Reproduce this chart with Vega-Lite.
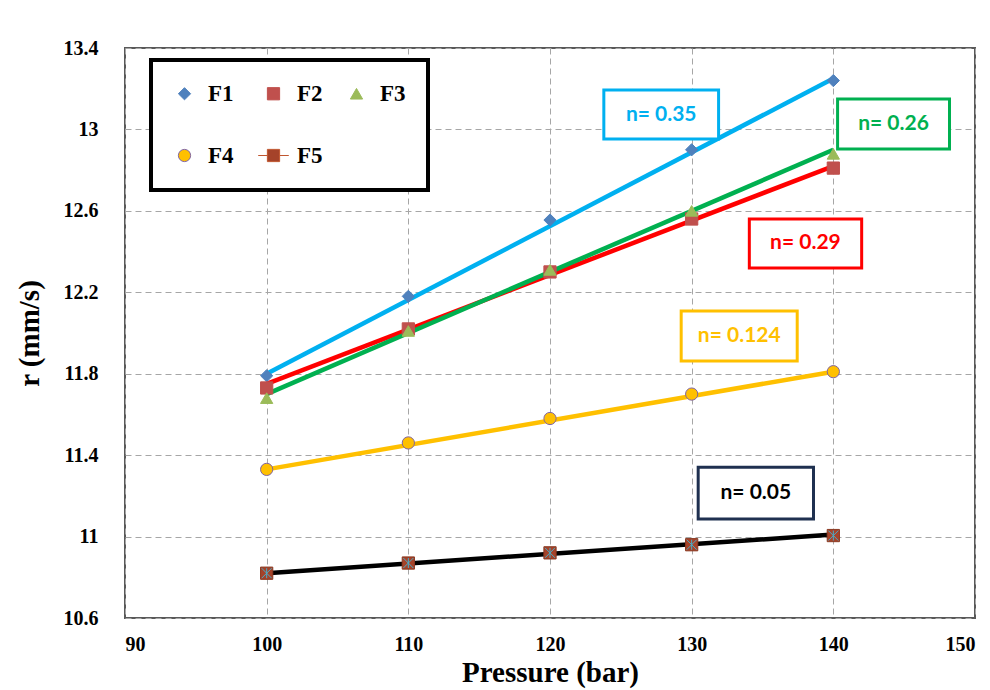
{
  "$schema": "https://vega.github.io/schema/vega-lite/v6.json",
  "width": 850,
  "height": 570,
  "autosize": {"type": "none"},
  "padding": {"left": 125, "top": 48, "right": 15, "bottom": 72},
  "background": "white",
  "datasets": {
    "pts": [
      {"s": "F1", "p": 100, "r": 11.79}, {"s": "F1", "p": 110, "r": 12.18}, {"s": "F1", "p": 120, "r": 12.555}, {"s": "F1", "p": 130, "r": 12.9}, {"s": "F1", "p": 140, "r": 13.24},
      {"s": "F2", "p": 100, "r": 11.73}, {"s": "F2", "p": 110, "r": 12.02}, {"s": "F2", "p": 120, "r": 12.3}, {"s": "F2", "p": 130, "r": 12.56}, {"s": "F2", "p": 140, "r": 12.81},
      {"s": "F3", "p": 100, "r": 11.68}, {"s": "F3", "p": 110, "r": 12.01}, {"s": "F3", "p": 120, "r": 12.31}, {"s": "F3", "p": 130, "r": 12.6}, {"s": "F3", "p": 140, "r": 12.88},
      {"s": "F4", "p": 100, "r": 11.33}, {"s": "F4", "p": 110, "r": 11.46}, {"s": "F4", "p": 120, "r": 11.58}, {"s": "F4", "p": 130, "r": 11.7}, {"s": "F4", "p": 140, "r": 11.81},
      {"s": "F5", "p": 100, "r": 10.82}, {"s": "F5", "p": 110, "r": 10.87}, {"s": "F5", "p": 120, "r": 10.92}, {"s": "F5", "p": 130, "r": 10.96}, {"s": "F5", "p": 140, "r": 11.005}
    ],
    "fit": [
      {"s": "F1", "p": 100, "r": 11.8}, {"s": "F1", "p": 140, "r": 13.25},
      {"s": "F2", "p": 100, "r": 11.75}, {"s": "F2", "p": 140, "r": 12.82},
      {"s": "F3", "p": 100, "r": 11.7}, {"s": "F3", "p": 140, "r": 12.9},
      {"s": "F4", "p": 100, "r": 11.33}, {"s": "F4", "p": 140, "r": 11.81},
      {"s": "F5", "p": 100, "r": 10.82}, {"s": "F5", "p": 140, "r": 11.01}
    ],
    "notes": [
      {"s": "F1", "label": "n= 0.35", "x1": 123.8, "x2": 131.9, "y1": 13.194, "y2": 12.953, "xc": 127.85, "yc": 13.073},
      {"s": "F2", "label": "n= 0.29", "x1": 134.07, "x2": 142.0, "y1": 12.56, "y2": 12.319, "xc": 138.03, "yc": 12.44},
      {"s": "F3", "label": "n= 0.26", "x1": 140.3, "x2": 148.2, "y1": 13.149, "y2": 12.904, "xc": 144.25, "yc": 13.027},
      {"s": "F4", "label": "n= 0.124", "x1": 129.26, "x2": 137.45, "y1": 12.108, "y2": 11.862, "xc": 133.36, "yc": 11.985},
      {"s": "F5", "label": "n= 0.05", "x1": 130.46, "x2": 138.6, "y1": 11.34, "y2": 11.086, "xc": 134.53, "yc": 11.213}
    ]
  },
  "layer": [
    {
      "data": {"name": "fit"},
      "mark": {"type": "line", "strokeWidth": 4.5},
      "encoding": {
        "x": {"field": "p", "type": "quantitative", "title": "Pressure (bar)", "scale": {"domain": [90, 150], "nice": false, "zero": false},
              "axis": {"values": [90, 100, 110, 120, 130, 140, 150]}},
        "y": {"field": "r", "type": "quantitative", "title": "r (mm/s)", "scale": {"domain": [10.6, 13.4], "nice": false, "zero": false},
              "axis": {"values": [10.6, 11, 11.4, 11.8, 12.2, 12.6, 13, 13.4], "format": ".1~f"}},
        "color": {"field": "s", "type": "nominal", "legend": null,
                  "scale": {"domain": ["F1", "F2", "F3", "F4", "F5"], "range": ["#00B0F0", "#FF0000", "#00B050", "#FFC000", "#000000"]}},
        "detail": {"field": "s"}
      }
    },
    {
      "data": {"name": "pts"},
      "mark": {"type": "point", "filled": true, "size": 150, "strokeWidth": 1, "opacity": 1},
      "encoding": {
        "x": {"field": "p", "type": "quantitative", "title": "Pressure (bar)"},
        "y": {"field": "r", "type": "quantitative", "title": "r (mm/s)"},
        "color": {"field": "s", "type": "nominal", "legend": null,
                  "scale": {"domain": ["F1", "F2", "F3", "F4", "F5"], "range": ["#4F81BD", "#C0504D", "#9BBB59", "#FFC000", "#A5432A"]}},
        "stroke": {"field": "s", "type": "nominal", "legend": null,
                  "scale": {"domain": ["F1", "F2", "F3", "F4", "F5"], "range": ["#4F81BD", "#C0504D", "#9BBB59", "#8064A2", "#8B3A22"]}},
        "shape": {"field": "s", "type": "nominal", "legend": null,
                  "scale": {"domain": ["F1", "F2", "F3", "F4", "F5"], "range": ["diamond", "square", "triangle-up", "circle", "square"]}}
      }
    },
    {
      "data": {"name": "pts"},
      "transform": [{"filter": "datum.s === 'F5'"}],
      "mark": {"type": "point", "shape": "M-1,-1L1,1M-1,1L1,-1M0,-1L0,1", "size": 100, "stroke": "#4BACC6", "strokeWidth": 1, "filled": false, "opacity": 1},
      "encoding": {
        "x": {"field": "p", "type": "quantitative", "title": "Pressure (bar)"},
        "y": {"field": "r", "type": "quantitative", "title": "r (mm/s)"}
      }
    },
    {
      "data": {"name": "pts"},
      "transform": [{"filter": "datum.p < 0"}],
      "mark": {"type": "point", "filled": true, "size": 150, "strokeWidth": 2, "opacity": 1},
      "encoding": {
        "x": {"field": "p", "type": "quantitative", "title": "Pressure (bar)"},
        "y": {"field": "r", "type": "quantitative", "title": "r (mm/s)"},
        "color": {"field": "s", "type": "nominal", "title": null,
                  "scale": {"domain": ["F1", "F2", "F3", "F4", "F5"], "range": ["#4F81BD", "#C0504D", "#9BBB59", "#FFC000", "#A5432A"]}},
        "stroke": {"field": "s", "type": "nominal", "title": null,
                  "scale": {"domain": ["F1", "F2", "F3", "F4", "F5"], "range": ["#4F81BD", "#C0504D", "#9BBB59", "#8064A2", "#C0562F"]}},
        "shape": {"field": "s", "type": "nominal", "title": null,
                  "scale": {"domain": ["F1", "F2", "F3", "F4", "F5"], "range": ["diamond", "square", "triangle-up", "circle", "M-2.5,0H-1M1,0H2.5M-1,-1H1V1H-1Z"]}}
      }
    },
    {
      "data": {"name": "notes"},
      "mark": {"type": "rect", "fill": "white", "strokeWidth": 3},
      "encoding": {
        "x": {"field": "x1", "type": "quantitative", "title": "Pressure (bar)"},
        "x2": {"field": "x2"},
        "y": {"field": "y1", "type": "quantitative", "title": "r (mm/s)"},
        "y2": {"field": "y2"},
        "stroke": {"field": "s", "type": "nominal", "legend": null,
                   "scale": {"domain": ["F1", "F2", "F3", "F4", "F5"], "range": ["#00B0F0", "#FF0000", "#00B050", "#FFC000", "#1F3050"]}}
      }
    },
    {
      "data": {"name": "notes"},
      "mark": {"type": "text", "font": "Lato", "fontWeight": "bold", "fontSize": 21, "align": "center", "baseline": "middle"},
      "encoding": {
        "x": {"field": "xc", "type": "quantitative", "title": "Pressure (bar)"},
        "y": {"field": "yc", "type": "quantitative", "title": "r (mm/s)"},
        "text": {"field": "label"},
        "color": {"field": "s", "type": "nominal", "legend": null,
                  "scale": {"domain": ["F1", "F2", "F3", "F4", "F5"], "range": ["#00B0F0", "#FF0000", "#00B050", "#FFC000", "#000000"]}}
      }
    }
  ],
  "resolve": {"scale": {"color": "independent", "stroke": "independent", "shape": "independent"}},
  "config": {
    "view": {"stroke": "#595959", "strokeWidth": 2},
    "axis": {
      "grid": true, "gridColor": "#A6A6A6", "gridDash": [6, 4], "gridWidth": 1,
      "domain": false, "ticks": false,
      "labelFont": "Liberation Serif", "labelFontWeight": "bold", "labelFontSize": 20, "labelColor": "#000000",
      "titleFont": "Liberation Serif", "titleFontWeight": "bold", "titleFontSize": 29, "titleColor": "#000000"
    },
    "axisX": {"labelPadding": 16, "titlePadding": 4},
    "axisY": {"labelPadding": 27, "titlePadding": 19},
    "legend": {
      "orient": "none", "legendX": 26, "legendY": 12, "columns": 3, "direction": "horizontal",
      "labelFont": "Liberation Serif", "labelFontWeight": "bold", "labelFontSize": 23, "labelColor": "#000000",
      "symbolSize": 150, "labelOffset": 12, "columnPadding": 22, "rowPadding": 38, "padding": 22,
      "strokeColor": "#000000", "fillColor": "white", "symbolStrokeWidth": 1, "strokeWidth": 4
    }
  }
}
